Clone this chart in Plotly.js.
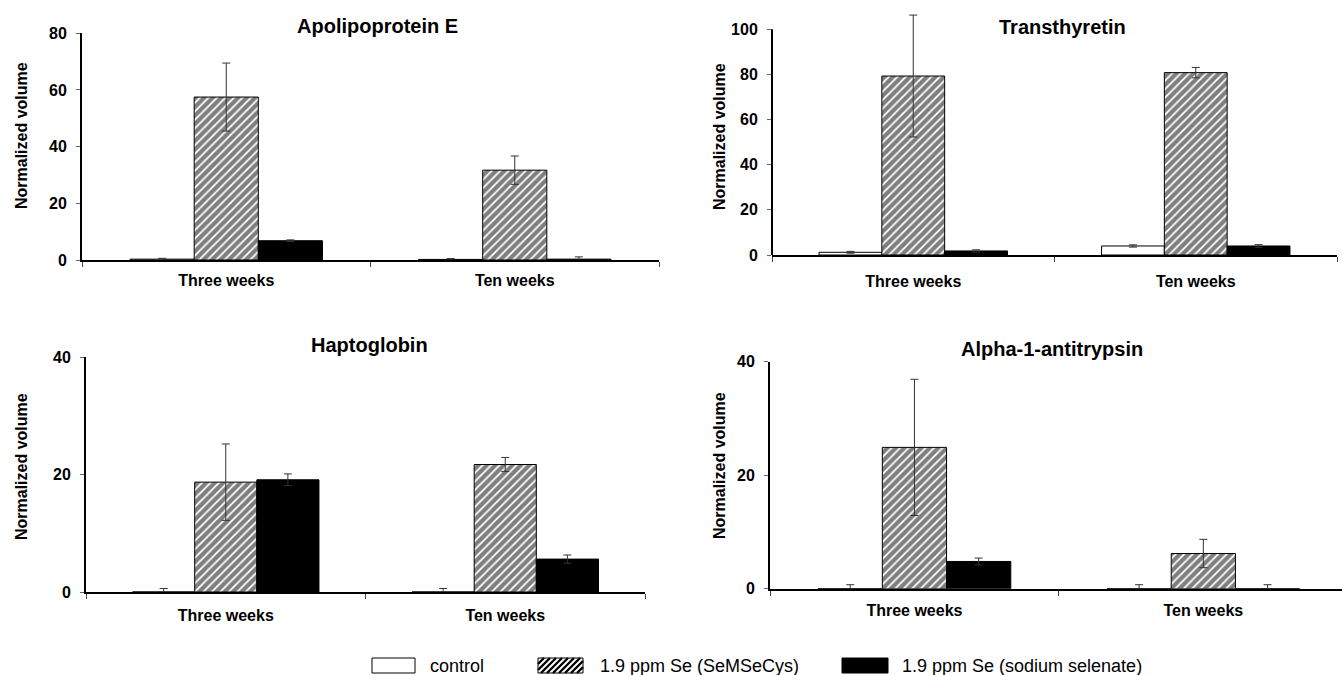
<!DOCTYPE html>
<html><head><meta charset="utf-8">
<script src="https://cdn.plot.ly/plotly-3.0.1.min.js"></script>
<style>html,body{margin:0;padding:0;background:#fff}#chart{width:1342px;height:675px}</style>
</head><body><div id="chart"></div>
<script>
// ---- data ----
const categories = ['Three weeks', 'Ten weeks'];
const seriesNames = ['control', '1.9 ppm Se (SeMSeCys)', '1.9 ppm Se (sodium selenate)'];
const panelTitles = ['Apolipoprotein E', 'Transthyretin', 'Haptoglobin', 'Alpha-1-antitrypsin'];
const yTitle = 'Normalized volume';

const apoeControl = [0.3, 0.2],  apoeControlErr = [0.3, 0.3];
const apoeSeMSeCys = [57.5, 31.7], apoeSeMSeCysErr = [12, 5];
const apoeSelenate = [6.8, 0.3], apoeSelenateErr = [0.3, 0.8];

const ttrControl = [1.2, 4.0],  ttrControlErr = [0.4, 0.5];
const ttrSeMSeCys = [79.3, 80.8], ttrSeMSeCysErr = [27, 2.3];
const ttrSelenate = [1.8, 4.0], ttrSelenateErr = [0.5, 0.6];

const hpControl = [0, 0],  hpControlErr = [0.6, 0.6];
const hpSeMSeCys = [18.7, 21.7], hpSeMSeCysErr = [6.5, 1.2];
const hpSelenate = [19.1, 5.6], hpSelenateErr = [1.0, 0.7];

const a1atControl = [0, 0],  a1atControlErr = [0.7, 0.7];
const a1atSeMSeCys = [24.9, 6.2], a1atSeMSeCysErr = [12, 2.5];
const a1atSelenate = [4.8, 0], a1atSelenateErr = [0.6, 0.7];

const yMax = [80, 100, 40, 40];
const yTicks = [[0,20,40,60,80], [0,20,40,60,80,100], [0,20,40], [0,20,40]];

// ---- build ----
const W = 1342, H = 675;
const FONT = 'Liberation Sans, Arial, sans-serif';
const panels = [
  [apoeControl, apoeControlErr, apoeSeMSeCys, apoeSeMSeCysErr, apoeSelenate, apoeSelenateErr],
  [ttrControl, ttrControlErr, ttrSeMSeCys, ttrSeMSeCysErr, ttrSelenate, ttrSelenateErr],
  [hpControl, hpControlErr, hpSeMSeCys, hpSeMSeCysErr, hpSelenate, hpSelenateErr],
  [a1atControl, a1atControlErr, a1atSeMSeCys, a1atSeMSeCysErr, a1atSelenate, a1atSelenateErr]
];
// pixel geometry: [xLeft, xRight, yBottom(px from top), yTop (at yMax)]
const geom = [
  [82, 659, 260, 33.3],
  [772, 1337, 255, 29.3],
  [86, 645, 592, 357],
  [770, 1342, 588.7, 361.7]
];
// headroom above the axis top (in data units) so error bars can rise above it
const headroom = [0, 8, 0, 0];
const titlePos = [[378, 26], [1062, 27], [369, 345], [1052, 349]];
const yTitlePos = [[21, 136], [719, 137], [21, 467], [719, 466]];
const xLabelStandoff = [5, 11, 8, 6];

const markers = [
  {color: '#ffffff', line: {color: '#000', width: 1}},
  {color: '#ffffff', line: {color: '#000', width: 1},
   pattern: {shape: '/', fgcolor: '#000', bgcolor: '#fff', size: 6, solidity: 0.7, fillmode: 'overlay'}},
  {color: '#000000', line: {color: '#000', width: 1}}
];

const traces = [];
const layout = {
  width: W, height: H,
  margin: {l: 0, r: 0, t: 0, b: 0},
  paper_bgcolor: '#fff', plot_bgcolor: 'rgba(0,0,0,0)',
  barmode: 'group', bargap: 0.333, bargroupgap: 0,
  showlegend: false,
  font: {family: FONT, color: '#000'},
  annotations: [], shapes: []
};

panels.forEach((p, i) => {
  const xa = i === 0 ? 'x' : 'x' + (i + 1);
  const ya = i === 0 ? 'y' : 'y' + (i + 1);
  for (let s = 0; s < 3; s++) {
    traces.push({
      type: 'bar', x: categories, y: p[s * 2], name: seriesNames[s],
      xaxis: xa, yaxis: ya, marker: markers[s], cliponaxis: false,
      error_y: {type: 'data', array: p[s * 2 + 1], visible: true, color: '#333', thickness: 1, width: 4},
      hoverinfo: 'x+y+name'
    });
  }
  const g = geom[i];
  const pxPerUnit = (g[2] - g[3]) / yMax[i];
  const topPx = g[3] - headroom[i] * pxPerUnit;
  const xkey = i === 0 ? 'xaxis' : 'xaxis' + (i + 1);
  const ykey = i === 0 ? 'yaxis' : 'yaxis' + (i + 1);
  const xrangeEnd = i === 3 ? 1.48 : 1.5;
  layout[xkey] = {
    domain: [g[0] / W, g[1] / W], anchor: ya,
    type: 'category', range: [-0.5, xrangeEnd],
    showline: true, linecolor: '#000', linewidth: 2,
    ticks: 'outside', tickson: 'boundaries', ticklen: 5, tickcolor: '#444', tickwidth: 1,
    showgrid: false, zeroline: false, fixedrange: true,
    tickfont: {family: FONT, size: 16, color: '#000', weight: 'bold'},
    ticklabelstandoff: xLabelStandoff[i]
  };
  layout[ykey] = {
    domain: [1 - g[2] / H, 1 - topPx / H], anchor: xa,
    range: [0, yMax[i] + headroom[i]], tickvals: yTicks[i],
    showline: headroom[i] === 0, linecolor: '#000', linewidth: 2,
    ticks: 'outside', ticklen: 4, tickcolor: '#666', tickwidth: 1,
    showgrid: false, zeroline: false, fixedrange: true,
    tickfont: {family: FONT, size: 16, color: '#000', weight: 'bold'},
    ticklabelstandoff: 6
  };
  if (headroom[i] > 0) {
    // y-axis line drawn only up to the top tick
    layout.shapes.push({
      type: 'line', xref: xa + ' domain', yref: ya,
      x0: 0, x1: 0, y0: 0, y1: yMax[i],
      line: {color: '#000', width: 2}
    });
  }
  layout.annotations.push({
    text: panelTitles[i], xref: 'paper', yref: 'paper',
    x: titlePos[i][0] / W, y: 1 - titlePos[i][1] / H,
    xanchor: 'center', yanchor: 'middle', showarrow: false,
    font: {family: FONT, size: 20, color: '#000', weight: 'bold'}
  });
  layout.annotations.push({
    text: yTitle, xref: 'paper', yref: 'paper', textangle: -90,
    x: yTitlePos[i][0] / W, y: 1 - yTitlePos[i][1] / H,
    xanchor: 'center', yanchor: 'middle', showarrow: false,
    font: {family: FONT, size: 16, color: '#000', weight: 'bold'}
  });
});

// ---- legend (drawn) ----
const legBoxes = [[372, 415], [538, 583], [842, 888]];
const legTextX = [428, 598, 900];
const legTop = 658, legBot = 673, legMid = 666;
const px = x => x / W, py = y => 1 - y / H;
legBoxes.forEach((b, s) => {
  layout.shapes.push({
    type: 'rect', xref: 'paper', yref: 'paper',
    x0: px(b[0]), x1: px(b[1]), y0: py(legBot), y1: py(legTop),
    line: {color: '#000', width: 1}, fillcolor: s === 2 ? '#000' : '#fff'
  });
  layout.annotations.push({
    text: seriesNames[s], xref: 'paper', yref: 'paper',
    x: px(legTextX[s]), y: py(legMid), xanchor: 'left', yanchor: 'middle',
    showarrow: false, font: {family: FONT, size: 18, color: '#000'}
  });
});
// hatch inside the second legend box
(function () {
  const [xl, xr] = legBoxes[1];
  const yb = 0, yt = legBot - legTop;
  let d = '';
  for (let k = xl - yt; k < xr; k += 6) {
    const ylo = Math.max(yb, xl - k), yhi = Math.min(yt, xr - k);
    if (ylo < yhi) {
      d += 'M' + px(ylo + k) + ',' + py(legBot - ylo) + 'L' + px(yhi + k) + ',' + py(legBot - yhi);
    }
  }
  layout.shapes.push({type: 'path', xref: 'paper', yref: 'paper', path: d, line: {color: '#000', width: 2.4}});
})();

Plotly.newPlot('chart', traces, layout, {displayModeBar: false, staticPlot: true});
</script></body></html>
